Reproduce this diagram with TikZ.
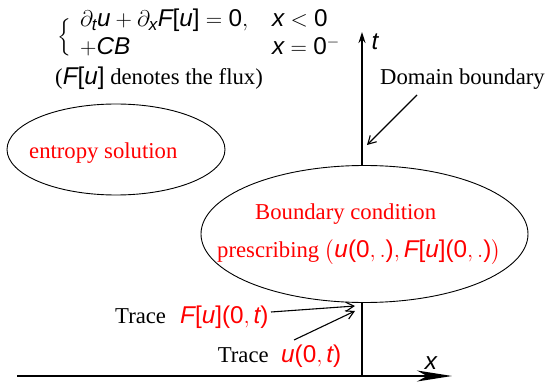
\RequirePackage{fix-cm}
\documentclass[tikz,border=0pt]{standalone}
\usepackage{amsmath}
\usepackage[no-math]{fontspec}
\setmainfont{Liberation Serif}
\newfontfamily\svfont[NFSSFamily=libsans,Scale=1.07]{Liberation Sans}
\DeclareMathAlphabet{\msi}{TU}{libsans}{m}{it}
\SetSymbolFont{operators}{normal}{TU}{libsans}{m}{n}
\DeclareSymbolFont{cmops}{OT1}{cmr}{m}{n}
\DeclareMathSymbol{+}{\mathbin}{cmops}{"2B}
\DeclareMathSymbol{=}{\mathrel}{cmops}{"3D}
\usetikzlibrary{arrows.meta,shapes.geometric}
\tikzset{
  txt/.style={inner sep=0pt, anchor=base west},
  oval/.style={ellipse, draw=black, line width=0.9pt, fill=white, inner sep=0pt},
  axis/.style={line width=1.5pt},
  pointer/.style={line width=1.1pt, -{Straight Barb[length=8pt,width=9pt,line width=1.1pt]}},
}
\begin{document}
\begin{tikzpicture}[x=1pt,y=-1pt, font=\fontsize{22.7}{27}\selectfont]
\useasboundingbox (0,0) rectangle (546,382);
% axes
\coordinate (xl) at (17,376);
\coordinate (xr) at (452,376);
\coordinate (O) at (362,376);
\coordinate (ttop) at (362,32);
\draw[axis, -{Stealth[length=35pt,width=11pt,inset=10pt]}] (xl) -- (xr);
\draw[axis, -{Stealth[length=11pt,width=7pt]}] (O) -- (ttop);
\node[inner sep=0pt] (xlab) at (431,363) {$\msi{x}$};
\node[inner sep=0pt] (tlab) at (375,42) {$\msi{t}$};
% equation
\node[inner sep=0pt] (brace) at (65,37.5) {$\left\{\rule[-14pt]{0pt}{40pt}\right.$};
\node[txt] (eq1) at (80,27) {$\partial_{\msi{t}}\msi{u}+\partial_{\msi{x}}\msi{F}[\msi{u}]=0,$};
\node[txt] (eq1c) at (272,27) {$\msi{x}<0$};
\node[txt] (eq2) at (80,55) {$+\msi{CB}$};
\node[txt] (eq2c) at (272,55) {$\msi{x}=0^{-}$};
\node[txt] (flux) at (55,85) {($\msi{F}[\msi{u}]$ denotes the flux)};
% entropy ellipse
\node[oval, minimum width=218pt, minimum height=91pt] (ent) at (116,149.5) {};
\node[txt, red] (entt) at (29,159) {entropy solution};
% boundary ellipse
\node[oval, minimum width=327pt, minimum height=137pt] (bc) at (364.5,234) {};
\node[txt, red] (bc1) at (255,220) {Boundary condition};
\node[txt, red] (bc2) at (217,258) {prescribing $\bigl(\msi{u}(0,.),\msi{F}[\msi{u}](0,.)\bigr)$};
% domain boundary
\node[txt] (db) at (380,85) {Domain boundary};
\coordinate (dbs) at (417,95);
\coordinate (dbe) at (367,145);
\draw[pointer] (dbs) -- (dbe);
% traces
\node[txt] (tr1) at (115,323.5) {Trace};
\node[txt, red] (tr1m) at (180,323.5) {$\msi{F}[\msi{u}](0,\msi{t})$};
\node[txt] (tr2) at (217.6,362) {Trace};
\node[txt, red] (tr2m) at (281,362) {$\msi{u}(0,\msi{t})$};
\coordinate (a1s) at (271,312);
\coordinate (a1e) at (355,306);
\coordinate (a2s) at (294,340);
\coordinate (a2e) at (355,311);
\draw[pointer] (a1s) -- (a1e);
\draw[pointer] (a2s) -- (a2e);
\end{tikzpicture}
\end{document}
